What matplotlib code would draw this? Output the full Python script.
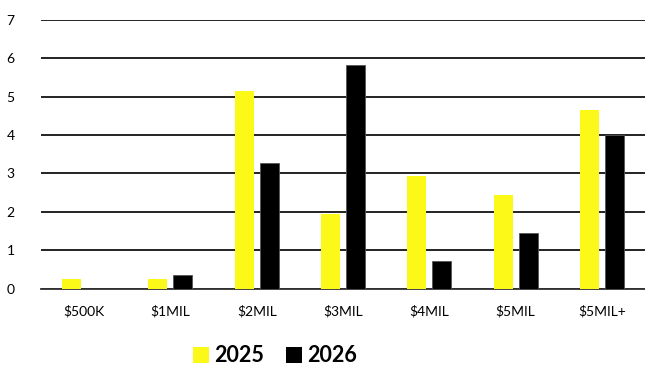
import matplotlib
matplotlib.use("Agg")
import matplotlib.pyplot as plt
import numpy as np
from matplotlib.patches import Patch

categories = ["$500K", "$1MIL", "$2MIL", "$3MIL", "$4MIL", "$5MIL", "$5MIL+"]
series_names = ["2025", "2026"]
values_2025 = [0.25, 0.25, 5.15, 1.95, 2.93, 2.44, 4.65]
values_2026 = [0.0, 0.36, 3.26, 5.82, 0.71, 1.45, 4.0]
y_ticks = [0, 1, 2, 3, 4, 5, 6, 7]

plt.rcParams['font.family'] = ['Lato', 'DejaVu Sans']

fig = plt.figure(figsize=(6.45, 3.68), dpi=100)
ax = fig.add_axes([41/645, (368-288.5)/368, (645-41)/645, (288.5-20)/368])

x = np.arange(len(categories))
w = 0.22
off = 0.145
ax.bar(x - off, values_2025, width=w, color='#FCF817', zorder=3)
ax.bar(x + off, values_2026, width=w, color='#000000', edgecolor='#555555', linewidth=0.6, zorder=3)

ax.set_xlim(-0.5, len(categories) - 0.5)
ax.set_ylim(0, 7)
ax.set_yticks(y_ticks)
ax.set_xticks(x)
ax.set_xticklabels(categories, fontsize=10)
ax.tick_params(axis='y', length=0, pad=19, labelsize=10)
ax.tick_params(axis='x', length=0, pad=12, labelsize=10)
ax.grid(axis='y', color='#111111', linewidth=1.3, zorder=1)
for s in ['left', 'right', 'top']:
    ax.spines[s].set_visible(False)
ax.spines['bottom'].set_color('#333333')
ax.spines['bottom'].set_linewidth(1.3)

handles = [Patch(facecolor='#FCF817', label=series_names[0]),
           Patch(facecolor='#000000', label=series_names[1])]
fig.legend(handles=handles, loc='center', bbox_to_anchor=(275/645, 1 - 356/368),
           ncol=2, frameon=False,
           prop={'size': 15.5, 'weight': 'bold'},
           handlelength=0.75, handleheight=0.8, handletextpad=0.25, columnspacing=1.0)

fig.savefig("out.png", dpi=100)
